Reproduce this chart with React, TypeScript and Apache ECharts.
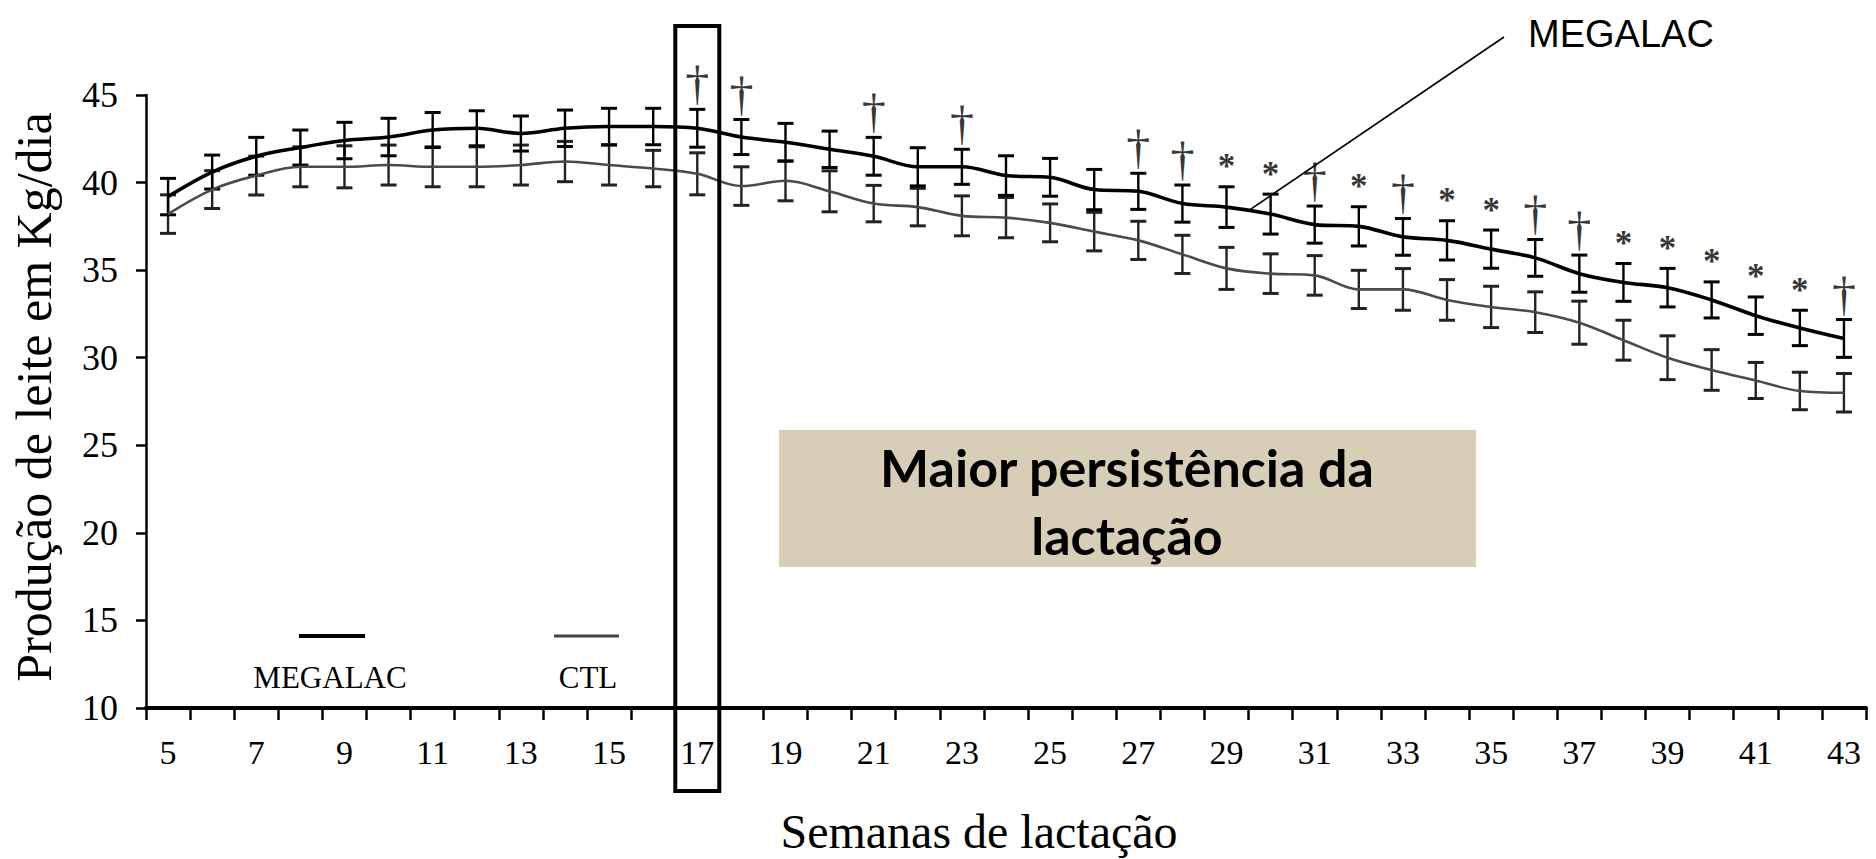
import React, { useEffect, useRef } from "react";
import * as echarts from "echarts";

const weeks = [
  "5", "6", "7", "8", "9", "10", "11", "12", "13", "14", "15", "16", "17", "18", "19", "20",
  "21", "22", "23", "24", "25", "26", "27", "28", "29", "30", "31", "32", "33", "34", "35",
  "36", "37", "38", "39", "40", "41", "42", "43",
];

const megalac = [
  39.2, 40.6, 41.5, 42.0, 42.4, 42.6, 43.0, 43.1, 42.8, 43.1, 43.2, 43.2, 43.1, 42.6, 42.3, 41.9,
  41.5, 40.9, 40.9, 40.4, 40.3, 39.6, 39.5, 38.8, 38.6, 38.2, 37.6, 37.5, 36.9, 36.7, 36.2,
  35.7, 34.8, 34.3, 34.0, 33.3, 32.4, 31.7, 31.1,
];

const ctl = [
  38.2, 39.6, 40.4, 40.9, 40.9, 41.0, 40.9, 40.9, 41.0, 41.2, 41.0, 40.8, 40.5, 39.8, 40.1, 39.5,
  38.8, 38.6, 38.1, 38.0, 37.7, 37.2, 36.7, 35.9, 35.1, 34.8, 34.7, 33.9, 33.9, 33.3, 32.9,
  32.6, 32.0, 31.0, 30.0, 29.3, 28.7, 28.1, 28.0,
];

const megalacSe = [
  1.04, 0.97, 1.08, 1.0, 1.04, 1.07, 1.0, 1.0, 1.0, 1.04, 1.04, 1.04, 1.08, 1.0, 1.08, 1.04,
  1.08, 1.09, 1.0, 1.13, 1.08, 1.15, 1.03, 1.06, 1.16, 1.14, 1.06, 1.12, 1.05, 1.12, 1.09,
  1.05, 1.06, 1.08, 1.1, 1.03, 1.07, 1.01, 1.08,
];

const ctlSe = [
  1.1, 1.08, 1.11, 1.14, 1.2, 1.14, 1.14, 1.14, 1.14, 1.15, 1.14, 1.04, 1.2, 1.1, 1.14, 1.17,
  1.04, 1.07, 1.14, 1.15, 1.08, 1.1, 1.09, 1.09, 1.2, 1.13, 1.13, 1.09, 1.19, 1.16, 1.18,
  1.16, 1.23, 1.14, 1.25, 1.16, 1.03, 1.07, 1.1,
];

const daggerWeeks = ["17", "18", "21", "23", "27", "28", "31", "33", "36", "37", "43"];
const starWeeks = ["29", "30", "32", "34", "35", "38", "39", "40", "41", "42"];

const yTicks = { min: 10, max: 45, interval: 5 };

const SERIF = "Liberation Serif";

function errorData(means: number[], se: number[]) {
  return means.map((m, i) => [i, m - se[i], m + se[i]]);
}

function sigData(ws: string[]) {
  return ws.map((w) => {
    const i = weeks.indexOf(w);
    return [i, megalac[i] + megalacSe[i]];
  });
}

function makeErrorSeries(name: string, means: number[], se: number[], color: string) {
  return {
    type: "custom",
    name,
    data: errorData(means, se),
    encode: { x: 0, y: [1, 2] },
    z: 3,
    renderItem: (params: any, api: any) => {
      const i = api.value(0);
      const lo = api.coord([i, api.value(1)]);
      const hi = api.coord([i, api.value(2)]);
      const hw = 8;
      const st = { stroke: color, lineWidth: 2.4 };
      const cap = { stroke: color, lineWidth: 3 };
      return {
        type: "group",
        children: [
          { type: "line", shape: { x1: hi[0], y1: hi[1], x2: lo[0], y2: lo[1] }, style: st },
          { type: "line", shape: { x1: hi[0] - hw, y1: hi[1], x2: hi[0] + hw, y2: hi[1] }, style: cap },
          { type: "line", shape: { x1: lo[0] - hw, y1: lo[1], x2: lo[0] + hw, y2: lo[1] }, style: cap },
        ],
      };
    },
  };
}

export default function App() {
  const ref = useRef<HTMLDivElement>(null);

  useEffect(() => {
    document.body.style.margin = "0";
    if (!ref.current) return;
    const chart = echarts.init(ref.current, undefined, { renderer: "svg" });

    const option: any = {
      animation: false,
      backgroundColor: "#ffffff",
      grid: { left: 146, right: 10, top: 95, bottom: 151 },
      xAxis: {
        type: "category",
        data: weeks,
        boundaryGap: true,
        axisLine: { lineStyle: { color: "#000", width: 4 } },
        axisTick: { show: true, interval: 0, length: 12, lineStyle: { color: "#000", width: 2.5 } },
        axisLabel: {
          interval: 1,
          margin: 27,
          color: "#000",
          fontSize: 34,
          fontFamily: SERIF,
        },
        splitLine: { show: false },
      },
      yAxis: {
        type: "value",
        min: yTicks.min,
        max: yTicks.max,
        interval: yTicks.interval,
        axisLine: { show: true, lineStyle: { color: "#000", width: 2.5 } },
        axisTick: { show: true, length: 10, lineStyle: { color: "#000", width: 2.5 } },
        axisLabel: { margin: 28, color: "#000", fontSize: 36, fontFamily: SERIF },
        splitLine: { show: false },
      },
      series: [
        makeErrorSeries("CTL SE", ctl, ctlSe, "#222"),
        makeErrorSeries("MEGALAC SE", megalac, megalacSe, "#000"),
        {
          type: "line",
          name: "CTL",
          data: ctl,
          smooth: 0.35,
          symbol: "none",
          lineStyle: { color: "#4a4a4a", width: 2.6 },
          z: 4,
        },
        {
          type: "line",
          name: "MEGALAC",
          data: megalac,
          smooth: 0.35,
          symbol: "none",
          lineStyle: { color: "#000", width: 3.6 },
          z: 5,
        },
        {
          type: "scatter",
          name: "dagger",
          data: sigData(daggerWeeks),
          symbolSize: 1,
          itemStyle: { color: "rgba(0,0,0,0)" },
          label: {
            show: true,
            position: "top",
            distance: 2,
            formatter: "†",
            color: "#000",
            fontSize: 48,
            fontFamily: SERIF,
          },
          z: 6,
        },
        {
          type: "scatter",
          name: "star",
          data: sigData(starWeeks),
          symbolSize: 1,
          itemStyle: { color: "rgba(0,0,0,0)" },
          label: {
            show: true,
            position: "top",
            distance: 2,
            formatter: "*",
            color: "#000",
            fontSize: 35,
            fontWeight: "bold",
            fontFamily: SERIF,
          },
          z: 6,
        },
      ],
    };
    chart.setOption(option);

    const i17 = weeks.indexOf("17");
    const c17 = chart.convertToPixel({ xAxisIndex: 0 }, weeks[i17]) as number;
    const i29 = weeks.indexOf("29");
    const pA = chart.convertToPixel({ gridIndex: 0 }, [i29, megalac[i29]]) as number[];
    const pB = chart.convertToPixel({ gridIndex: 0 }, [i29 + 1, megalac[i29 + 1]]) as number[];
    const calloutEnd = [(pA[0] + pB[0]) / 2, (pA[1] + pB[1]) / 2];

    chart.setOption({
      graphic: [
        {
          type: "rect",
          shape: { x: c17 - 22, y: 26, width: 44, height: 765 },
          style: { fill: "none", stroke: "#000", lineWidth: 4 },
          z: 10,
        },
        {
          type: "rect",
          shape: { x: 779, y: 430, width: 697, height: 137 },
          style: { fill: "#d8cdb6" },
          z: 1,
        },
        {
          type: "text",
          x: 1127,
          y: 467,
          style: {
            text: "Maior persistência da",
            align: "center",
            verticalAlign: "middle",
            fontSize: 52,
            fontWeight: "bold",
            fontFamily: "Lato",
            fill: "#000",
          },
          z: 2,
        },
        {
          type: "text",
          x: 1127,
          y: 535,
          style: {
            text: "lactação",
            align: "center",
            verticalAlign: "middle",
            fontSize: 52,
            fontWeight: "bold",
            fontFamily: "Lato",
            fill: "#000",
          },
          z: 2,
        },
        {
          type: "line",
          shape: { x1: 1504, y1: 37, x2: calloutEnd[0], y2: calloutEnd[1] },
          style: { stroke: "#000", lineWidth: 1.6 },
          z: 10,
        },
        {
          type: "text",
          x: 1528,
          y: 34,
          style: {
            text: "MEGALAC",
            align: "left",
            verticalAlign: "middle",
            fontSize: 38,
            fontFamily: "Liberation Sans",
            fill: "#000",
          },
          z: 10,
        },
        {
          type: "line",
          shape: { x1: 299, y1: 636, x2: 365, y2: 636 },
          style: { stroke: "#000", lineWidth: 4 },
        },
        {
          type: "text",
          x: 330,
          y: 677,
          style: {
            text: "MEGALAC",
            align: "center",
            verticalAlign: "middle",
            fontSize: 31,
            fontFamily: SERIF,
            fill: "#000",
          },
        },
        {
          type: "line",
          shape: { x1: 554, y1: 636, x2: 619, y2: 636 },
          style: { stroke: "#444", lineWidth: 3 },
        },
        {
          type: "text",
          x: 588,
          y: 677,
          style: {
            text: "CTL",
            align: "center",
            verticalAlign: "middle",
            fontSize: 31,
            fontFamily: SERIF,
            fill: "#000",
          },
        },
        {
          type: "text",
          x: 34,
          y: 397,
          rotation: Math.PI / 2,
          style: {
            text: "Produção de leite em Kg/dia",
            align: "center",
            verticalAlign: "middle",
            fontSize: 50,
            fontFamily: SERIF,
            fill: "#000",
          },
        },
        {
          type: "text",
          x: 979,
          y: 831,
          style: {
            text: "Semanas de lactação",
            align: "center",
            verticalAlign: "middle",
            fontSize: 48,
            fontFamily: SERIF,
            fill: "#000",
          },
        },
      ],
    });

    return () => {
      chart.dispose();
    };
  }, []);

  return <div ref={ref} style={{ width: 1876, height: 859 }} />;
}
